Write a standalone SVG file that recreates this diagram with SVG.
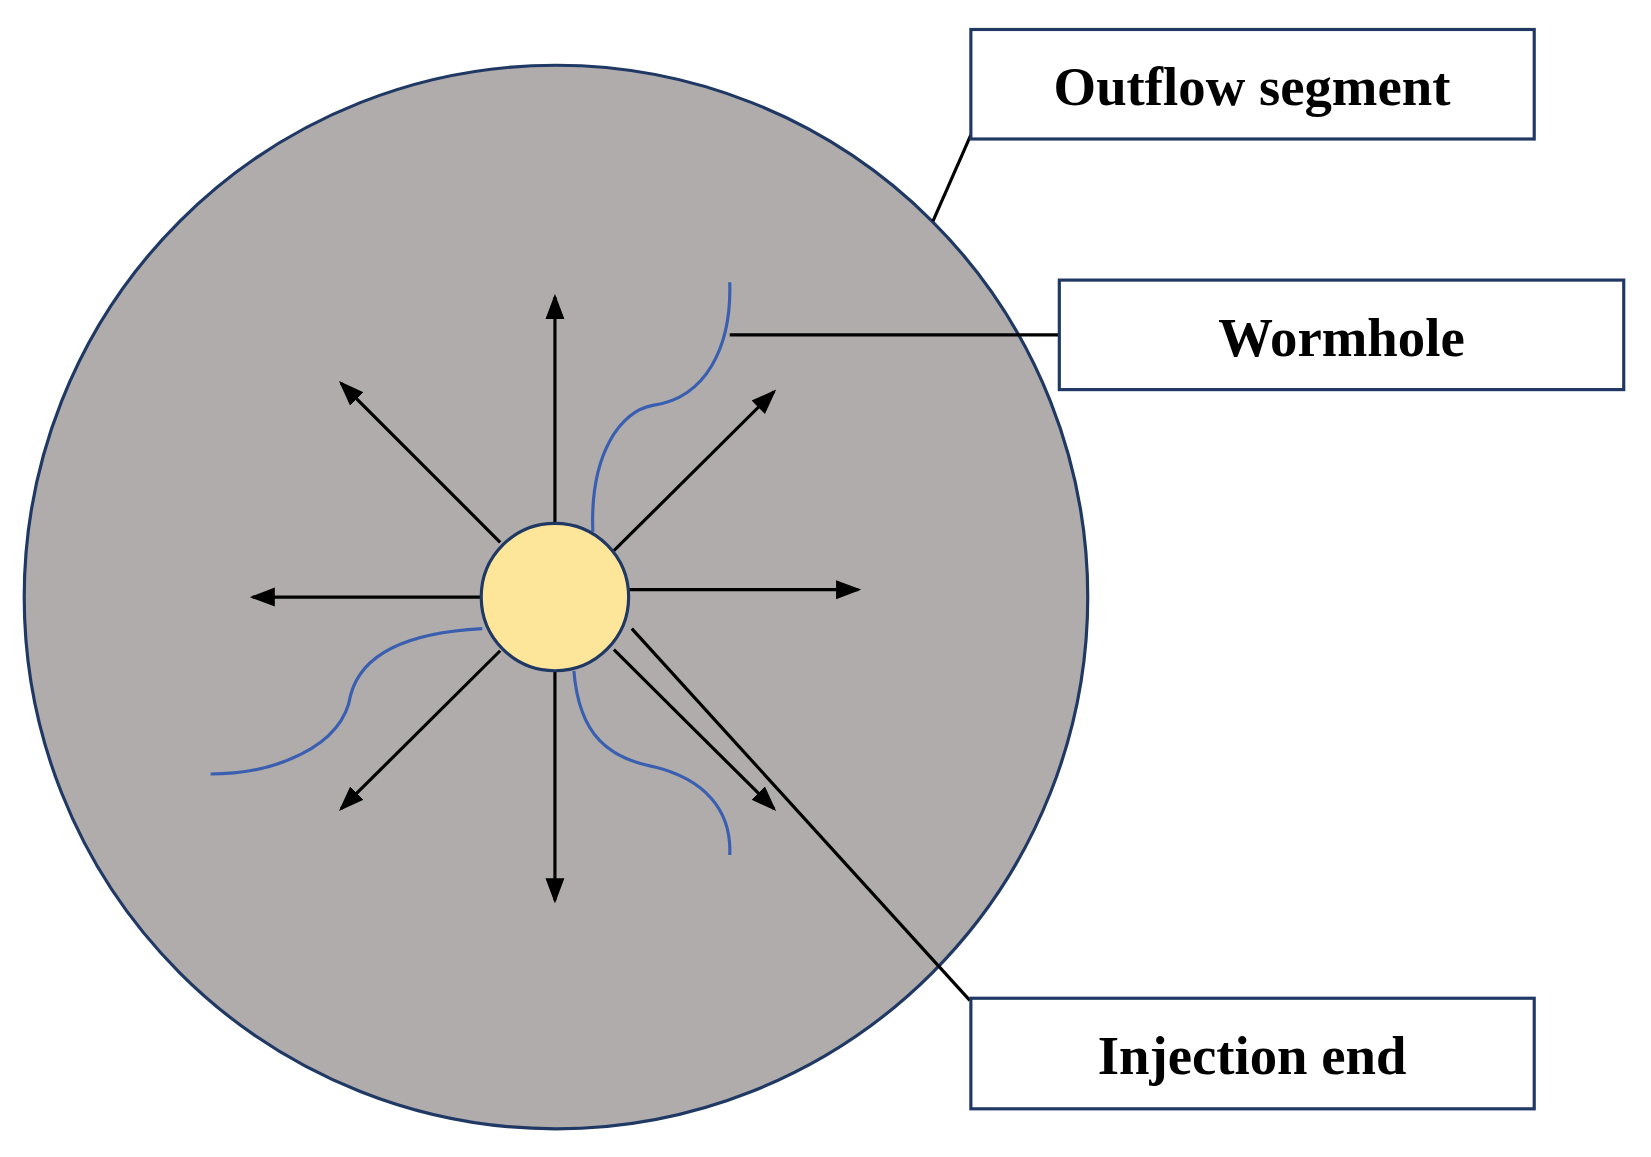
<svg xmlns="http://www.w3.org/2000/svg" width="1651" height="1157" viewBox="0 0 1651 1157">
<style>
.lbl{font-family:"Liberation Serif",serif;font-weight:bold;font-size:52px;fill:#000;text-anchor:middle}
.box{fill:#fff;stroke:#1f3864;stroke-width:3}
.arr{stroke:#000;stroke-width:3;fill:none;marker-end:url(#ah)}
.lead{stroke:#000;stroke-width:3;fill:none}
.worm{stroke:#3a5fb0;stroke-width:3;fill:none}
</style>
<defs><marker id="ah" markerWidth="8" markerHeight="8" refX="7" refY="4" orient="auto" markerUnits="strokeWidth"><path d="M0,1 L8,4 L0,7 Z" fill="#000"/></marker></defs>
<rect width="1651" height="1157" fill="#fff"/>
<g transform="scale(1.053)">
<g id="disk"><circle cx="528" cy="567" r="505" fill="#b0acac" stroke="#1f3864" stroke-width="3"/></g>
<g id="wormholes">
<path class="worm" d="M563,505 C560,430 590,390 620,385 C670,378 695,330 693,268"/>
<path class="worm" d="M458,597 C400,600 345,615 333,660 C325,710 260,735 200,735"/>
<path class="worm" d="M545,637 C550,700 580,720 620,728 C670,740 695,770 693,812"/>
</g>
<g id="connectors">
<line class="arr" x1="527" y1="497" x2="527" y2="282"/>
<line class="arr" x1="527" y1="637" x2="527" y2="855"/>
<line class="arr" x1="457" y1="567" x2="240" y2="567"/>
<line class="arr" x1="597" y1="560" x2="815" y2="560"/>
<line class="arr" x1="583" y1="523" x2="735" y2="372"/>
<line class="arr" x1="475" y1="515" x2="324" y2="364"/>
<line class="arr" x1="475" y1="618" x2="324" y2="768"/>
<line class="arr" x1="583" y1="617" x2="735" y2="768"/>
<line class="lead" x1="922" y1="128" x2="886" y2="210"/>
<line class="lead" x1="693" y1="318" x2="1006" y2="318"/>
<line class="lead" x1="600" y1="597" x2="921" y2="950"/>
</g>
<g id="injection-well"><circle cx="527" cy="567" r="70" fill="#fde699" stroke="#1f3864" stroke-width="3"/></g>
<g id="outflow"><rect class="box" x="922" y="28" width="535" height="104"/><text class="lbl" x="1189" y="100">Outflow segment</text></g>
<g id="wormhole"><rect class="box" x="1006" y="266" width="536" height="104"/><text class="lbl" x="1274" y="338">Wormhole</text></g>
<g id="injection"><rect class="box" x="922" y="948" width="535" height="105"/><text class="lbl" x="1189" y="1020">Injection end</text></g>
</g>
</svg>
